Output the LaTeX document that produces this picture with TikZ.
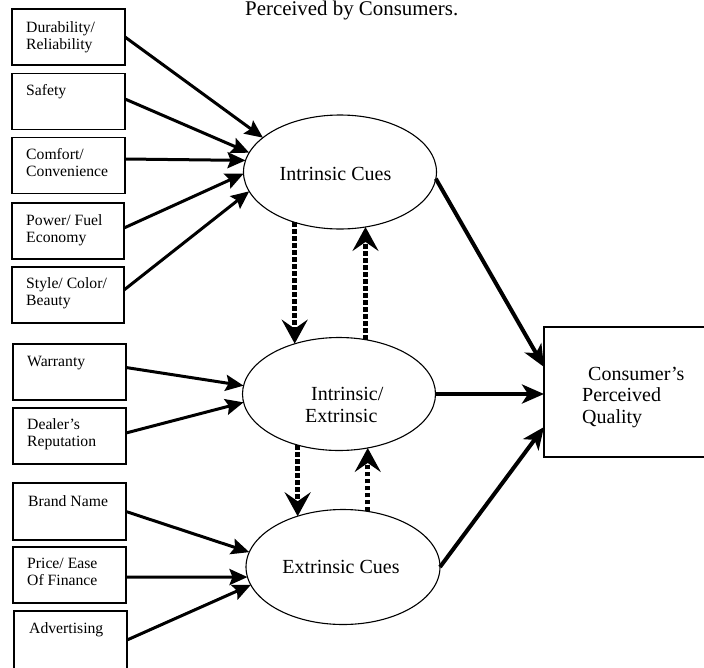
\documentclass[tikz,border=0pt]{standalone}
\usepackage{fontspec}
\setmainfont{Liberation Serif}
\usetikzlibrary{arrows.meta,shapes.geometric}
\begin{document}
\begin{tikzpicture}[x=1pt,y=-1pt,
  cuebox/.style={draw, line width=1.4pt, minimum width=113pt, minimum height=56pt, inner sep=0pt, outer sep=0pt},
  cuetext/.style={anchor=north west, inner sep=0pt, align=left, font=\fontsize{15.7}{17.5}\selectfont},
  cue/.style={ellipse, draw, line width=1.1pt, inner sep=0pt, outer sep=0pt},
  bigtext/.style={inner sep=0pt, font=\fontsize{20}{22}\selectfont},
  feed/.style={line width=3pt, -{Stealth[length=18pt,width=16pt,inset=3pt]}},
  outarr/.style={line width=4pt, -{Stealth[length=22pt,width=19pt,inset=6pt]}},
  link/.style={line width=5pt, dash pattern=on 4.5pt off 2.5pt, -{Stealth[length=24pt,width=26pt,inset=9pt]}}]
\useasboundingbox (0,0) rectangle (704,667);

\node[anchor=base west, inner sep=0pt, font=\fontsize{20.9}{24}\selectfont] (title) at (245,15) {Perceived by Consumers.};

% cue boxes
\node[cuebox] (b1) at (68.5,37) {};
\node[cuebox] (b2) at (68.5,101.5) {};
\node[cuebox] (b3) at (68.5,165.5) {};
\node[cuebox, minimum width=112pt] (b4) at (68,231) {};
\node[cuebox, minimum width=112pt] (b5) at (68,295) {};
\node[cuebox] (b6) at (69.5,372) {};
\node[cuebox] (b7) at (69.5,436) {};
\node[cuebox, minimum height=57pt] (b8) at (69.5,511.5) {};
\node[cuebox] (b9) at (69.5,575) {};
\node[cuebox, minimum height=60pt] (b10) at (70.5,641) {};

\node[cuetext] (t1) at (26,19.75) {\strut Durability/\\Reliability};
\node[cuetext] (t2) at (26,82.75) {\strut Safety};
\node[cuetext] (t3) at (26,146.75) {\strut Comfort/\\Convenience};
\node[cuetext] (t4) at (26,212.75) {\strut Power/ Fuel\\Economy};
\node[cuetext] (t5) at (26,275.75) {\strut Style/ Color/\\Beauty};
\node[cuetext] (t6) at (27,353.75) {\strut Warranty};
\node[cuetext] (t7) at (27,416.75) {\strut Dealer’s\\Reputation};
\node[cuetext] (t8) at (28,493.75) {\strut Brand Name};
\node[cuetext] (t9) at (27,555.75) {\strut Price/ Ease\\Of Finance};
\node[cuetext] (t10) at (29,620.75) {\strut Advertising};

% ellipses
\node[cue, minimum width=193pt, minimum height=114pt] (e1) at (340,172) {};
\node[cue, minimum width=193pt, minimum height=113pt] (e2) at (339,394) {};
\node[cue, minimum width=194pt, minimum height=115pt] (e3) at (343,567) {};

\node[bigtext, anchor=base] (l1) at (335.5,180) {Intrinsic Cues};
\node[bigtext, anchor=north west, align=left] (l2) at (305,384.6) {\strut\hspace*{6pt}Intrinsic/\\Extrinsic};
\node[bigtext, anchor=base] (l3) at (341,573) {Extrinsic Cues};

% outcome box
\node[draw, line width=1.8pt, minimum width=166pt, minimum height=130pt, inner sep=0pt, outer sep=0pt] (cq) at (627,392) {};
\node[bigtext, anchor=north west, align=left, font=\fontsize{20}{21.5}\selectfont] (l4) at (582,364.95) {\strut\hspace*{6pt}Consumer’s\\Perceived\\Quality};

% feeding arrows
\draw[feed] (b1.east) -- (e1.156);
\draw[feed] ([yshift=2.5pt]b2.east) -- (e1.168);
\draw[feed] ([yshift=6.5pt]b3.east) -- (e1.173);
\draw[feed] ([yshift=3pt]b4.east) -- (e1.181);
\draw[feed] ([yshift=5pt]b5.east) -- (e1.192);
\draw[feed] ([yshift=4.5pt]b6.east) -- (e2.175);
\draw[feed] ([yshift=3pt]b7.east) -- (e2.185);
\draw[feed] (b8.east) -- (e3.171);
\draw[feed] ([yshift=-2pt]b9.east) -- (e3.186);
\draw[feed] ([yshift=1pt]b10.east) -- (e3.191);

% outcome arrows
\draw[outarr] (e1.356) -- ([yshift=25pt]cq.west);
\draw[outarr] (e2.east) -- (e2.east -| cq.west);
\draw[outarr] (e3.east) -- ([yshift=-35pt]cq.west);

% dotted links
\draw[link] (e1.228) -- (e1.228 |- e2.131);
\draw[link] (e2.64) -- (e2.64 |- e1.295);
\draw[link] (e2.231) -- (e2.231 |- e3.132);
\draw[link] (e3.66) -- (e3.66 |- e2.298);
\end{tikzpicture}
\end{document}
